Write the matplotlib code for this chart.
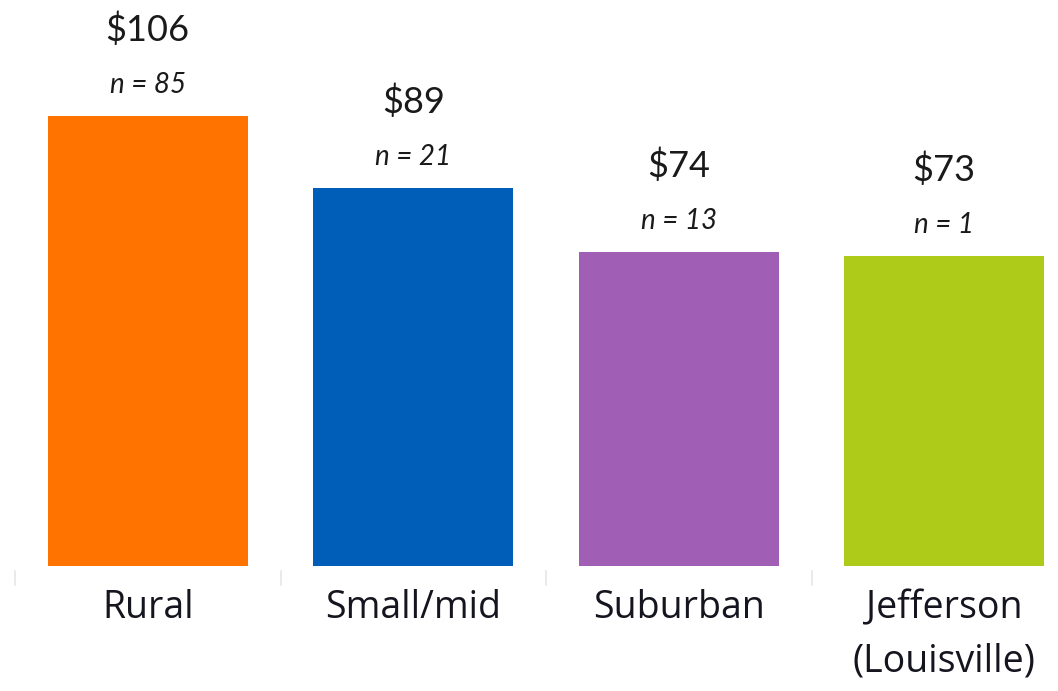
import matplotlib
matplotlib.use("Agg")
import matplotlib.pyplot as plt

categories = ["Rural", "Small/mid", "Suburban", "Jefferson\n(Louisville)"]
values = [106, 89, 74, 73]
counts = [85, 21, 13, 1]
colors = ["#FF7300", "#005EB8", "#A05EB5", "#AFCB1A"]

plt.rcParams["font.family"] = ["Lato", "DejaVu Sans"]
TXT = "#1a1a1a"

W, H = 1058, 691
fig = plt.figure(figsize=(W / 100, H / 100), dpi=100)
ax = fig.add_axes([0, 125 / H, 1, 566 / H])

pos = [i + 0.5 for i in range(len(categories))]
ax.bar(pos, values, width=0.753, color=colors)
ax.set_xlim(-15 / 265.5, (W - 15) / 265.5)
ax.set_ylim(0, 566 / 4.245)

for x, v, n in zip(pos, values, counts):
    ax.annotate(f"${v}", (x, v), xytext=(0, 54), textcoords="offset points",
                ha="center", va="baseline", fontsize=26, color=TXT)
    ax.annotate(f"n = {n}", (x, v), xytext=(0, 16.5), textcoords="offset points",
                ha="center", va="baseline", fontsize=20, style="italic", color=TXT)

for x, c in zip(pos, categories):
    for k, line in enumerate(c.split("\n")):
        ax.annotate(line, (x, 0), xytext=(0, -37.5 - 38.2 * k), textcoords="offset points",
                    ha="center", va="baseline", fontsize=27, color="#15151f",
                    family=["Open Sans", "DejaVu Sans"])

# faint separators on the baseline
for b in range(len(categories)):
    ax.plot([b, b], [-1.2, -4.5], color="#e6e6e6", lw=1.2, clip_on=False)

for s in ax.spines.values():
    s.set_visible(False)
ax.set_xticks([])
ax.set_yticks([])

fig.savefig("out.png", dpi=100)
